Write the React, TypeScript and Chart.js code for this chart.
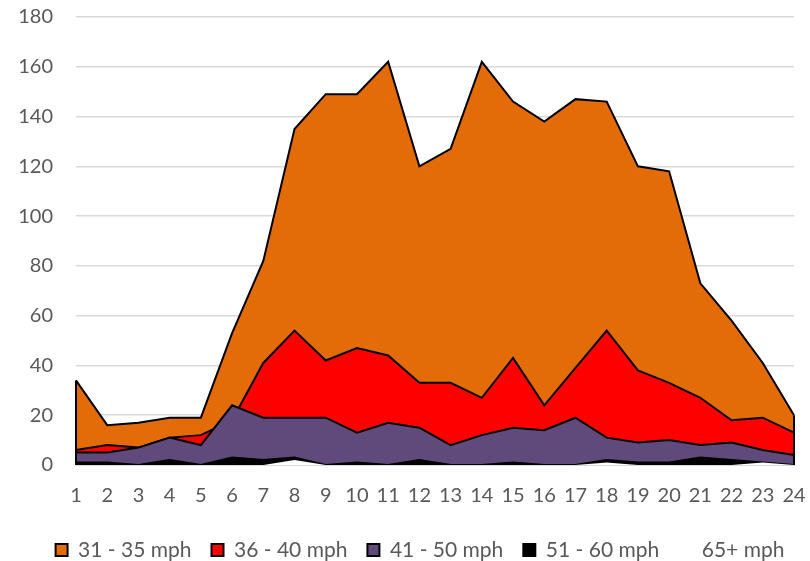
import React, { useEffect, useRef } from "react";
import { Chart, registerables } from "chart.js";

Chart.register(...registerables);

const hours = ["1","2","3","4","5","6","7","8","9","10","11","12","13","14","15","16","17","18","19","20","21","22","23","24"];
const mph31to35 = [34,16,17,19,19,53,82,135,149,149,162,120,127,162,146,138,147,146,120,118,73,58,41,20];
const mph36to40 = [6,8,7,11,12,18,41,54,42,47,44,33,33,27,43,24,39,54,38,33,27,18,19,13];
const mph41to50 = [5,5,7,11,8,24,19,19,19,13,17,15,8,12,15,14,19,11,9,10,8,9,6,4];
const mph51to60 = [1,1,0,2,0,3,2,3,0,1,0,2,0,0,1,0,0,2,1,1,3,2,1,0];
const mph65plus = [0,0,0,0,0,0,0,2,0,0,0,0,0,0,0,0,0,1,0,0,0,0,1,0];
const yTicks = [0,20,40,60,80,100,120,140,160,180];

const FONT = "Lato, 'Noto Sans', sans-serif";
const LEGEND_SIZE = 21;
const LEGEND_PAD = 20;

const edgePlugin = {
  id: "areaEdges",
  afterDatasetDraw(chart: any, args: any) {
    const meta = args.meta;
    const ds = chart.data.datasets[args.index];
    if (!ds.borderWidth || !meta.data.length) return;
    const ctx = chart.ctx;
    const base = chart.scales.y.getPixelForValue(0);
    const first = meta.data[0];
    const last = meta.data[meta.data.length - 1];
    ctx.save();
    ctx.strokeStyle = ds.borderColor;
    ctx.lineWidth = ds.borderWidth;
    ctx.beginPath();
    ctx.moveTo(first.x, first.y);
    ctx.lineTo(first.x, base);
    ctx.moveTo(last.x, last.y);
    ctx.lineTo(last.x, base);
    ctx.stroke();
    ctx.restore();
  },
};

const legendShift = {
  id: "legendShift",
  afterLayout(chart: any) {
    const l = chart.legend;
    if (!l) return;
    const center = l.top + LEGEND_PAD + LEGEND_SIZE / 2;
    const dy = 550 - center;
    const dx = 23;
    l.top += dy;
    l.bottom += dy;
    l.left += dx;
    l.right += dx;
  },
};

export default function App() {
  const ref = useRef<HTMLCanvasElement>(null);
  useEffect(() => {
    document.body.style.margin = "0";
    const mk = (label: string, data: number[], color: string, order: number, bw = 2, bc = "#000") => ({
      label,
      data,
      backgroundColor: color,
      borderColor: bc,
      borderWidth: bw,
      fill: "origin",
      pointRadius: 0,
      tension: 0,
      order,
    });
    const chart = new Chart(ref.current!, {
      type: "line",
      data: {
        labels: hours,
        datasets: [
          mk("31 - 35 mph", mph31to35, "#E36C09", 5),
          mk("36 - 40 mph", mph36to40, "#FF0000", 4),
          mk("41 - 50 mph", mph41to50, "#604A7B", 3),
          mk("51 - 60 mph", mph51to60, "#000000", 2),
          mk("65+ mph", mph65plus, "#FFFFFF", 1, 0, "#FFFFFF"),
        ] as any,
      },
      options: {
        responsive: false,
        animation: false,
        layout: { autoPadding: false, padding: { top: 17, right: 16, left: 0, bottom: 0 } },
        plugins: {
          tooltip: { enabled: false },
          legend: {
            position: "bottom",
            labels: {
              sort: (a: any, b: any) => a.datasetIndex - b.datasetIndex,
              boxWidth: 12,
              boxHeight: 12,
              padding: LEGEND_PAD,
              color: "#595959",
              font: { family: FONT, size: LEGEND_SIZE },
            },
          },
        },
        scales: {
          x: {
            type: "category",
            offset: false,
            grid: { display: false, drawTicks: false },
            border: { display: true, color: "#d9d9d9", width: 1 },
            ticks: { color: "#595959", font: { family: FONT, size: 20 }, padding: 19, maxRotation: 0, autoSkip: false },
            afterFit: (s: any) => { s.height = 45; s.paddingLeft = 0; s.paddingRight = 0; },
          },
          y: {
            min: 0,
            max: 180,
            afterBuildTicks: (s: any) => { s.ticks = yTicks.map((v) => ({ value: v })); },
            grid: { color: "#d9d9d9", lineWidth: 1.5, drawTicks: false },
            border: { display: false },
            ticks: { color: "#595959", font: { family: FONT, size: 20 }, padding: 23 },
            afterFit: (s: any) => { s.width = 76; s.paddingTop = 0; s.paddingBottom = 0; },
          },
        },
      },
      plugins: [edgePlugin, legendShift],
    });
    return () => chart.destroy();
  }, []);
  return (
    <div style={{ width: 810, height: 561 }}>
      <canvas ref={ref} width={810} height={561} style={{ display: "block" }} />
    </div>
  );
}
